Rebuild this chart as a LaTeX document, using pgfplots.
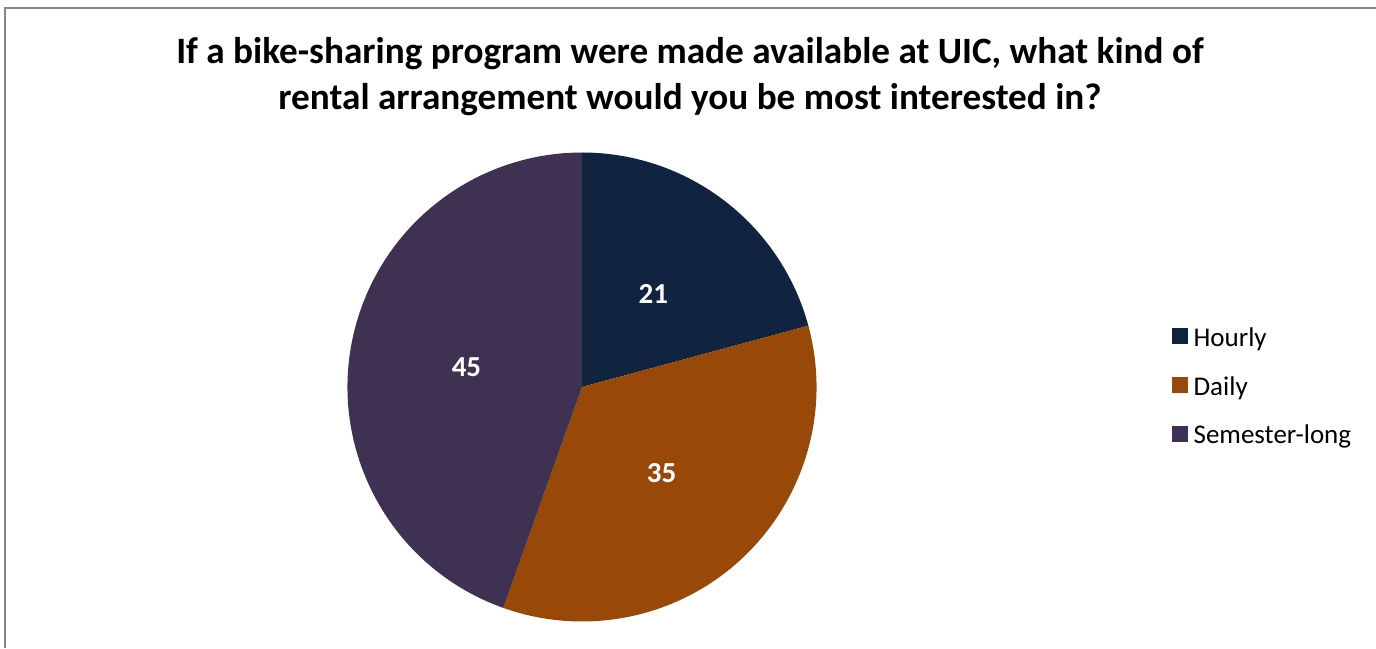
\documentclass[border=0pt]{standalone}
\usepackage{pgfplots}
\usepackage{pgfplotstable}
\pgfplotsset{compat=1.18}
\usepackage{fontspec}
\setmainfont{Carlito}
\definecolor{hourly}{HTML}{10243F}
\definecolor{daily}{HTML}{984807}
\definecolor{semester}{HTML}{3F3151}
\definecolor{frame}{HTML}{878787}

\pgfplotstableread{
label value
Hourly 21
Daily 35
Semester-long 45
}\piedata

\begin{document}
\begin{tikzpicture}[x=1pt,y=1pt]
\useasboundingbox (0,0) rectangle (1376,648);
\draw[frame, line width=1.6pt] (5,0) -- (5,640) -- (1376,640);
\node[anchor=base, font=\bfseries\fontsize{37.2}{44}\selectfont] at (690,584) {If a bike-sharing program were made available at UIC, what kind of};
\node[anchor=base, font=\bfseries\fontsize{37.2}{44}\selectfont] at (690,538) {rental arrangement would you be most interested in?};

\pgfplotstablegetelem{0}{value}\of\piedata \let\va\pgfplotsretval
\pgfplotstablegetelem{1}{value}\of\piedata \let\vb\pgfplotsretval
\pgfplotstablegetelem{2}{value}\of\piedata \let\vc\pgfplotsretval
\pgfmathsetmacro\tot{\va+\vb+\vc}
\pgfmathsetmacro\aA{90}
\pgfmathsetmacro\aB{\aA-360*\va/\tot}
\pgfmathsetmacro\aC{\aB-360*\vb/\tot}
\pgfmathsetmacro\aD{\aC-360*\vc/\tot}
\pgfmathsetmacro\mA{(\aA+\aB)/2}
\pgfmathsetmacro\mB{(\aB+\aC)/2}
\pgfmathsetmacro\mC{(\aC+\aD)/2}

\begin{axis}[
  at={(582pt,261pt)}, anchor=center,
  width=469pt, height=469pt, scale only axis,
  xmin=-1, xmax=1, ymin=-1, ymax=1,
  hide axis, clip=false,
  legend style={at={(1.758,0.497)}, anchor=west, draw=none, fill=none,
    inner sep=0pt, row sep=25.5pt,
    font=\fontsize{27}{32}\selectfont,
    nodes={inner sep=0pt, text height=16pt, text depth=5pt},
    /tikz/every even column/.append style={column sep=0pt},
    /tikz/every odd column/.append style={column sep=6pt}},
  legend cell align=left,
]
\fill[hourly] (axis cs:0,0) -- (axis cs:{cos(\aA)},{sin(\aA)}) arc[start angle=\aA, end angle=\aB, radius=234.5pt] -- cycle;
\fill[daily] (axis cs:0,0) -- (axis cs:{cos(\aB)},{sin(\aB)}) arc[start angle=\aB, end angle=\aC, radius=234.5pt] -- cycle;
\fill[semester] (axis cs:0,0) -- (axis cs:{cos(\aC)},{sin(\aC)}) arc[start angle=\aC, end angle=\aD, radius=234.5pt] -- cycle;
\node[white, font=\bfseries\fontsize{29}{34}\selectfont] at (axis cs:{0.5*cos(\mA)},{0.5*sin(\mA)}) {\va};
\node[white, font=\bfseries\fontsize{29}{34}\selectfont] at (axis cs:{0.5*cos(\mB)},{0.5*sin(\mB)}) {\vb};
\node[white, font=\bfseries\fontsize{29}{34}\selectfont] at (axis cs:{0.5*cos(\mC)},{0.5*sin(\mC)}) {\vc};
\addlegendimage{legend image code/.code={\fill[hourly] (0pt,-2.5pt) rectangle (15pt,12.5pt);}}
\addlegendentry{Hourly}
\addlegendimage{legend image code/.code={\fill[daily] (0pt,-2.5pt) rectangle (15pt,12.5pt);}}
\addlegendentry{Daily}
\addlegendimage{legend image code/.code={\fill[semester] (0pt,-2.5pt) rectangle (15pt,12.5pt);}}
\addlegendentry{Semester-long}
\end{axis}
\end{tikzpicture}
\end{document}
